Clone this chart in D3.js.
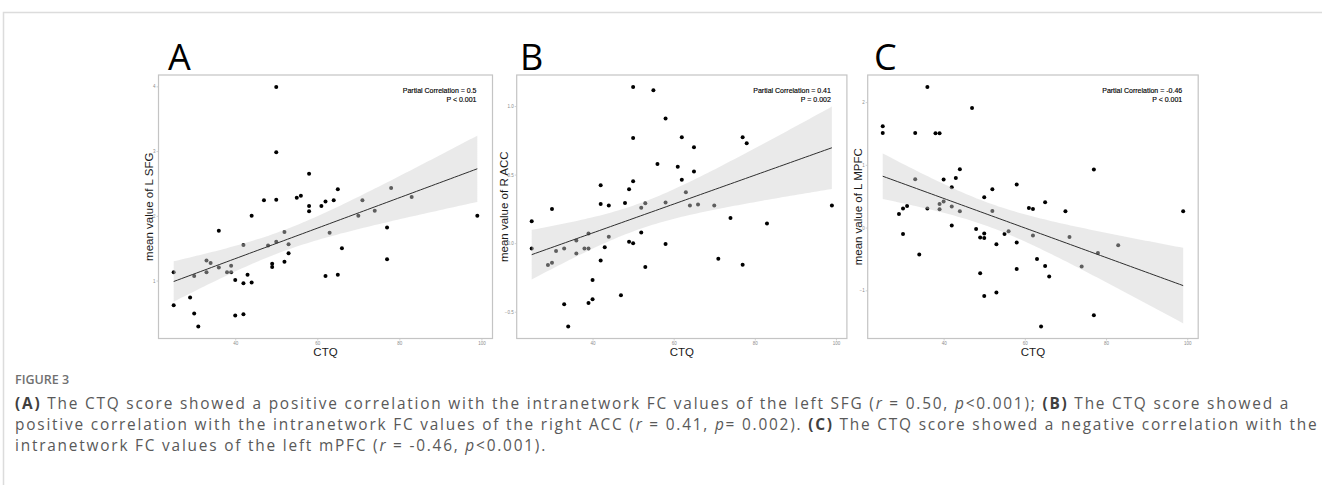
<!DOCTYPE html>
<html lang="en">
<head>
<meta charset="utf-8">
<style>
  body { margin: 0; background: #fff; }
  svg { display: block; }
  .tick-label { font-family: "Liberation Sans", Arial, sans-serif; font-size: 4.5px; fill: #8c8c8c; }
  .axis-title { font-family: "Liberation Sans", Arial, sans-serif; font-size: 11.5px; fill: #1a1a1a; }
  .stat-label { font-family: "Liberation Sans", Arial, sans-serif; font-size: 7px; fill: #000; stroke: #000; stroke-width: 0.15px; }
  .panel-letter { font-family: "Open Sans", sans-serif; font-size: 36px; fill: #000; }
  .caption { font-family: "Open Sans", sans-serif; fill: #595959; }
</style>
</head>
<body>
<script src="https://d3js.org/d3.v7.min.js"></script>
<script>
// values (CTQ score vs mean FC value)
var ctqA = [50, 50, 58, 47, 50, 55, 56, 58, 58, 61, 62, 44, 36, 52, 50, 53, 42, 48, 53, 52,
            49, 49, 33, 34, 36, 33, 25, 30, 38, 39, 39, 43, 40, 42, 44, 25, 29, 30, 31, 40,
            42, 64, 65, 71, 70, 74, 78, 83, 77, 77, 66, 63, 62, 65, 99];
var valA = [3.99, 2.98, 2.65, 2.24, 2.25, 2.28, 2.31, 2.15, 2.07, 2.15, 2.22, 2.00, 1.77, 1.75, 1.60, 1.56, 1.55, 1.54, 1.42, 1.29,
            1.26, 1.21, 1.31, 1.27, 1.20, 1.13, 1.13, 1.07, 1.13, 1.13, 1.23, 1.09, 1.01, 0.96, 0.97, 0.62, 0.74, 0.49, 0.29, 0.46,
            0.48, 2.24, 2.41, 2.24, 2.00, 2.08, 2.43, 2.29, 1.82, 1.33, 1.50, 1.74, 1.07, 1.09, 2.00];

var ctqB = [50, 55, 58, 50, 56, 61, 50, 42, 49, 42, 44, 48, 52, 53, 58, 30, 25, 25, 29, 30,
            31, 33, 36, 36, 38, 39, 39, 44, 43, 42, 49, 50, 52, 58, 53, 40, 47, 40, 39, 33,
            34, 62, 65, 77, 78, 65, 62, 63, 64, 66, 70, 99, 74, 83, 71, 77];
var valB = [1.139, 1.115, 0.909, 0.766, 0.577, 0.557, 0.451, 0.422, 0.393, 0.286, 0.274, 0.293, 0.259, 0.291, 0.296, 0.250, 0.160, -0.039, -0.160, -0.143,
            -0.058, -0.039, 0.019, -0.075, -0.039, -0.039, 0.070, 0.046, -0.029, -0.126, 0.010, 0.000, 0.078, -0.007, -0.174, -0.269, -0.380, -0.409, -0.436, -0.446,
            -0.608, 0.773, 0.700, 0.773, 0.729, 0.523, 0.463, 0.371, 0.274, 0.281, 0.274, 0.274, 0.184, 0.143, -0.114, -0.158];

var ctqC = [36, 47, 25, 25, 33, 38, 39, 44, 33, 40, 43, 42, 52, 58, 50, 39, 40, 29, 30, 31,
            36, 39, 42, 44, 52, 42, 30, 34, 48, 49, 50, 50, 53, 55, 56, 58, 58, 49, 50, 53,
            61, 62, 65, 70, 77, 99, 62, 71, 83, 78, 63, 65, 66, 74, 77, 64];
var valC = [2.241, 1.907, 1.614, 1.508, 1.508, 1.503, 1.503, 0.929, 0.770, 0.765, 0.791, 0.643, 0.611, 0.685, 0.483, 0.377, 0.414, 0.218, 0.303, 0.345,
            0.303, 0.292, 0.335, 0.260, 0.266, 0.032, -0.101, -0.430, -0.021, -0.159, -0.096, -0.165, -0.266, -0.101, -0.058, -0.239, -0.659, -0.728, -1.089, -1.036,
            0.313, 0.297, 0.404, 0.260, 0.924, 0.260, -0.127, -0.149, -0.281, -0.404, -0.499, -0.611, -0.781, -0.621, -1.397, -1.577];

var panelLetters = ["A", "B", "C"];
var yTitles = ["mean value of L SFG", "mean value of R ACC", "mean value of L MPFC"];
var corrLabels = ["Partial Correlation = 0.5", "Partial Correlation = 0.41", "Partial Correlation = -0.46"];
var pLabels = ["P < 0.001", "P = 0.002", "P < 0.001"];
var xTicks = [40, 60, 80, 100];
var yTicksA = [1, 2, 3, 4];
var yTicksB = [-0.5, 0, 0.5, 1.0];
var yTicksC = [-1, 0, 1, 2];
var xTitle = "CTQ";

var width = 1322, height = 485;

// panel boxes (layout only)
var plotTop = 75, plotBottom = 338.5;
var panels = [
  { x: ctqA, y: valA, yTicks: yTicksA, fmt: d3.format("d"),   left: 158.5, right: 492.5,  gap: 6,   letterX: 168 },
  { x: ctqB, y: valB, yTicks: yTicksB, fmt: d3.format(".1f"), left: 516.7, right: 846.9,  gap: 8.6, letterX: 520 },
  { x: ctqC, y: valC, yTicks: yTicksC, fmt: d3.format("d"),   left: 867.7, right: 1198.2, gap: 6,   letterX: 874 }
];

var svg = d3.select("body").append("svg")
    .attr("width", width)
    .attr("height", height);

svg.append("rect").attr("width", width).attr("height", height).attr("fill", "#fff");

// outer frame of the figure block
svg.append("path")
    .attr("d", "M3.5," + height + " L3.5,12.5 L" + width + ",12.5")
    .attr("fill", "none")
    .attr("stroke", "#dcdcdc")
    .attr("stroke-width", 1.5);

// linear fit with 95% confidence band (like geom_smooth(method = "lm"))
function fitLine(xs, ys) {
    var n = xs.length;
    var mx = d3.mean(xs), my = d3.mean(ys);
    var sxx = 0, sxy = 0;
    for (var i = 0; i < n; i++) {
        sxx += (xs[i] - mx) * (xs[i] - mx);
        sxy += (xs[i] - mx) * (ys[i] - my);
    }
    var b = sxy / sxx, a = my - b * mx;
    var sse = 0;
    for (var j = 0; j < n; j++) {
        var r = ys[j] - (a + b * xs[j]);
        sse += r * r;
    }
    var s = Math.sqrt(sse / (n - 2));
    var t = 2.005;
    var ext = d3.extent(xs);
    return d3.range(81).map(function (k) {
        var x = ext[0] + k * (ext[1] - ext[0]) / 80;
        var fit = a + b * x;
        var se = s * Math.sqrt(1 / n + (x - mx) * (x - mx) / sxx);
        return { x: x, fit: fit, lo: fit - t * se, hi: fit + t * se };
    });
}

function expand(ext) {
    var pad = (ext[1] - ext[0]) * 0.05;
    return [ext[0] - pad, ext[1] + pad];
}

function styleAxis(s) {
    s.select(".domain").remove();
    s.selectAll("line").attr("stroke", "#b5b5b5").attr("stroke-width", 0.6);
    s.selectAll("text").attr("class", "tick-label").attr("fill", null);
}

panels.forEach(function (p, i) {
    var band = fitLine(p.x, p.y);
    var yAll = p.y.concat(band.map(function (d) { return d.lo; }), band.map(function (d) { return d.hi; }));

    var x = d3.scaleLinear().domain(expand(d3.extent(p.x))).range([p.left, p.right]);
    var y = d3.scaleLinear().domain(expand(d3.extent(yAll))).range([plotBottom, plotTop]);

    var g = svg.append("g");

    // ticks
    g.append("g").attr("transform", "translate(0," + plotBottom + ")")
        .call(d3.axisBottom(x).tickValues(xTicks).tickSize(2).tickPadding(1.5))
        .call(styleAxis);

    g.append("g").attr("transform", "translate(" + p.left + ",0)")
        .call(d3.axisLeft(y).tickValues(p.yTicks).tickFormat(p.fmt).tickSize(2).tickPadding(1))
        .call(styleAxis);

    // points
    g.selectAll(".dot")
        .data(p.x.map(function (v, k) { return [v, p.y[k]]; }))
        .enter().append("circle")
        .attr("class", "dot")
        .attr("cx", function (d) { return x(d[0]); })
        .attr("cy", function (d) { return y(d[1]); })
        .attr("r", 2)
        .attr("fill", "#000");

    // confidence ribbon drawn over points
    g.append("path")
        .datum(band)
        .attr("d", d3.area()
            .x(function (d) { return x(d.x); })
            .y0(function (d) { return y(d.lo); })
            .y1(function (d) { return y(d.hi); }))
        .attr("fill", "#d0d0d0")
        .attr("fill-opacity", 0.45);

    g.append("path")
        .datum(band)
        .attr("d", d3.line()
            .x(function (d) { return x(d.x); })
            .y(function (d) { return y(d.fit); }))
        .attr("fill", "none")
        .attr("stroke", "#2e2e2e")
        .attr("stroke-width", 1);

    // panel border
    g.append("rect")
        .attr("x", p.left).attr("y", plotTop)
        .attr("width", p.right - p.left).attr("height", plotBottom - plotTop)
        .attr("fill", "none")
        .attr("stroke", "#c4c4c4")
        .attr("stroke-width", 1.2);

    // stats text
    g.append("text").attr("class", "stat-label")
        .attr("x", p.right - 16).attr("y", 92.5)
        .attr("text-anchor", "end")
        .text(corrLabels[i]);
    g.append("text").attr("class", "stat-label")
        .attr("x", p.right - 16).attr("y", 102)
        .attr("text-anchor", "end")
        .text(pLabels[i]);

    // axis titles
    g.append("text").attr("class", "axis-title")
        .attr("text-anchor", "middle")
        .attr("transform", "translate(" + (p.left - p.gap) + "," + ((plotTop + plotBottom) / 2) + ") rotate(-90)")
        .text(yTitles[i]);
    g.append("text").attr("class", "axis-title")
        .attr("text-anchor", "middle")
        .attr("x", (p.left + p.right) / 2).attr("y", 356)
        .text(xTitle);

    // panel letter
    g.append("text").attr("class", "panel-letter")
        .attr("x", p.letterX).attr("y", 69.5)
        .text(panelLetters[i]);
});

// caption
svg.append("text")
    .attr("x", 15).attr("y", 384)
    .attr("font-family", "Open Sans, sans-serif")
    .attr("font-size", 12.5)
    .attr("font-weight", 600)
    .attr("fill", "#707070")
    .text("FIGURE 3");

var captionLines = [
    [["b", "(A)"], ["", " The CTQ score showed a positive correlation with the intranetwork FC values of the left SFG ("], ["i", "r"], ["", " = 0.50, "], ["i", "p"], ["", "<0.001); "], ["b", "(B)"], ["", " The CTQ score showed a"]],
    [["", "positive correlation with the intranetwork FC values of the right ACC ("], ["i", "r"], ["", " = 0.41, "], ["i", "p"], ["", "= 0.002). "], ["b", "(C)"], ["", " The CTQ score showed a negative correlation with the"]],
    [["", "intranetwork FC values of the left mPFC ("], ["i", "r"], ["", " = -0.46, "], ["i", "p"], ["", "<0.001)."]]
];
var captionY = [408.5, 429.5, 450.5];
var capSize = 15.4;

var capNodes = captionLines.map(function (parts, li) {
    var t = svg.append("text").attr("class", "caption")
        .attr("x", 15).attr("y", captionY[li])
        .attr("font-size", capSize);
    parts.forEach(function (pt) {
        var ts = t.append("tspan").text(pt[1]);
        if (pt[0] === "b") ts.attr("font-weight", 700).attr("fill", "#3f3f3f");
        if (pt[0] === "i") ts.attr("font-style", "italic");
    });
    return t;
});

// spread the letters slightly so the first line spans the text block width
var w0 = capNodes[0].node().getComputedTextLength();
var nChars = capNodes[0].text().length;
var ls = Math.max(0, (1275 - w0) / nChars);
capNodes.forEach(function (t) { t.attr("letter-spacing", ls); });
</script>
</body>
</html>
